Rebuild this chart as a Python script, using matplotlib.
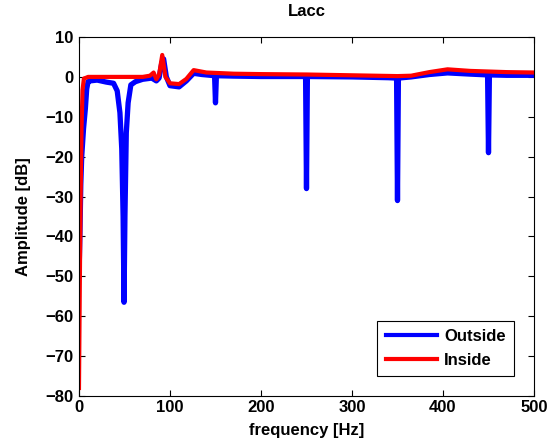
"""
Frequency response of the Lacc channel, outside vs inside, redrawn from the figure.
"""

import matplotlib
matplotlib.use("Agg")
import matplotlib.pyplot as plt


# outside (blue): key points
freq_outside = [0, 1, 2, 3, 5, 7, 8.5, 10, 12, 20, 30, 38, 42, 45, 47, 48.5, 49.5,
                50.5, 52, 54, 57, 62, 70, 80, 85, 88, 91, 93, 96, 100, 110, 118,
                126, 135, 149, 150, 151, 170, 200, 249, 250, 251, 300, 340, 349,
                350, 351, 365, 385, 405, 430, 449, 450, 451, 470, 500]
amp_outside = [-50, -40, -27, -20, -13, -8, -3, -1.2, -1.0, -0.8, -1.3, -1.6, -3.5,
               -9, -18, -35, -56.5, -35, -14, -6.5, -2, -1.2, -0.6, -0.3, -1, -0.3,
               3.5, 4.5, 0, -2.2, -2.5, -1, 0.9, 0.6, 0.3, -6.5, 0.3, 0.2, 0.1,
               0.1, -28, 0.1, 0, -0.2, -0.3, -31, -0.3, 0, 0.6, 1.0, 0.7, 0.5,
               -19, 0.5, 0.4, 0.4]

# inside (red)
freq_inside = [0, 1, 1.8, 2.8, 3.9, 5.4, 8, 10, 20, 40, 60, 70, 78, 82, 85, 88,
               91.5, 95, 100, 110, 118, 126, 140, 170, 200, 250, 300, 350, 365,
               385, 405, 430, 470, 500]
amp_inside = [-78, -50, -30, -13, -3.3, -0.4, -0.2, 0, 0, 0, 0, 0, 0.3, 1.1, -0.6,
              0.5, 5.5, 0, -1.6, -1.8, -0.5, 1.7, 1.1, 0.8, 0.7, 0.6, 0.4, 0.2,
              0.3, 1.2, 1.9, 1.5, 1.2, 1.1]

x_ticks = [0, 100, 200, 300, 400, 500]
y_ticks = [-80, -70, -60, -50, -40, -30, -20, -10, 0, 10]


def main() -> None:
    plt.rcParams["font.family"] = ["Liberation Sans", "DejaVu Sans"]
    plt.rcParams["font.weight"] = "bold"

    fig = plt.figure(figsize=(5.5, 4.47), dpi=100)
    ax = fig.add_axes([0.1436, 0.1141, 0.8273, 0.8031])

    ax.plot(freq_outside, amp_outside, color="#0000ff", linewidth=3.8, label="Outside")
    ax.plot(freq_inside, amp_inside, color="#ff0000", linewidth=3.0, label="Inside")

    ax.set_xlim(0, 500)
    ax.set_ylim(-80, 10)
    ax.set_xticks(x_ticks)
    ax.set_yticks(y_ticks)
    ax.tick_params(direction="in", top=True, right=True, labelsize=12, length=4)
    ax.tick_params(axis="x", pad=3)
    ax.tick_params(axis="y", pad=4)
    for label in ax.get_xticklabels() + ax.get_yticklabels():
        label.set_fontweight("bold")

    ax.set_xlabel("frequency [Hz]", fontsize=12, fontweight="bold", labelpad=6)
    ax.set_ylabel("Amplitude [dB]", fontsize=12, fontweight="bold", labelpad=10)
    ax.set_title("Lacc", fontsize=12, fontweight="bold", pad=15)

    leg = ax.legend(loc="lower right", fancybox=False, framealpha=1,
                    edgecolor="black", prop={"size": 12, "weight": "bold"},
                    handlelength=3.1, handletextpad=0.4, borderaxespad=1.2,
                    labelspacing=0.5, borderpad=0.5)
    leg.get_frame().set_linewidth(0.8)
    for line in leg.get_lines():
        line.set_linewidth(3.0)

    fig.savefig("out.png", dpi=100)


if __name__ == "__main__":
    main()
